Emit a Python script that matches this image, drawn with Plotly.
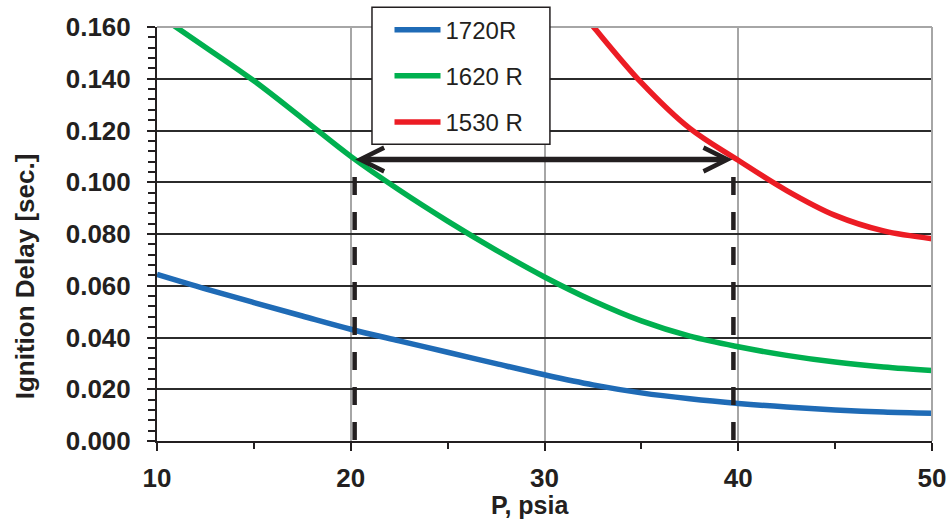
import plotly.graph_objects as go

# ---- data ----
pressure = [10, 12.5, 15, 17.5, 20, 22.5, 25, 27.5, 30, 32.5, 35, 37.5, 40, 42.5, 45, 47.5, 50]
delay_1720 = [0.0644, 0.0588, 0.0535, 0.0483, 0.0432, 0.0387, 0.0343, 0.0299, 0.0256, 0.0217,
              0.0186, 0.0163, 0.0145, 0.0131, 0.0120, 0.0112, 0.0107]
delay_1620 = [0.1650, 0.1522, 0.1392, 0.1247, 0.1100, 0.0970, 0.0850, 0.0738, 0.0634, 0.0542,
              0.0464, 0.0405, 0.0364, 0.0331, 0.0305, 0.0286, 0.0272]
pressure_1530 = [32, 32.5, 35, 37.5, 40, 42.5, 45, 47.5, 50]
delay_1530 = [0.1648, 0.1603, 0.1385, 0.1208, 0.1085, 0.0968, 0.0872, 0.0812, 0.0782]

series_names = ["1720R", "1620 R", "1530 R"]
series_colors = ["#1f6bb6", "#00b04f", "#ec1c24"]

# annotation values: equal ignition delay reached at two pressures
equal_delay = 0.1088
pressure_marks = [20.2, 39.75]
dash_top = 0.102

x_ticks = [10, 20, 30, 40, 50]
y_ticks = [0.0, 0.02, 0.04, 0.06, 0.08, 0.10, 0.12, 0.14, 0.16]

INK = "#231f20"
FONT = "Liberation Sans, Arial, sans-serif"

fig = go.Figure()
curves = [(pressure, delay_1720), (pressure, delay_1620), (pressure_1530, delay_1530)]
for i, ((xs, ys), name, col) in enumerate(zip(curves, series_names, series_colors)):
    fig.add_trace(go.Scatter(x=xs, y=ys, mode="lines", name=name,
                             line=dict(color=col, width=5.5, shape="spline", smoothing=1.0),
                             legendgroup=f"g{i}"))

for p in pressure_marks:
    fig.add_trace(go.Scatter(x=[p, p], y=[dash_top, 0], mode="lines", showlegend=False,
                             line=dict(color=INK, width=4.5, dash="18px,17px"),
                             hoverinfo="skip"))

fig.add_annotation(x=pressure_marks[1] - 0.05, y=equal_delay, ax=pressure_marks[0] - 0.05, ay=equal_delay,
                   xref="x", yref="y", axref="x", ayref="y", text="", showarrow=True,
                   arrowhead=5, startarrowhead=5, arrowside="end+start",
                   arrowsize=0.85, startarrowsize=0.85, arrowwidth=5.5, arrowcolor=INK)

# axis titles
fig.add_annotation(text="<b>Ignition Delay [sec.]</b>", xref="paper", yref="paper",
                   x=-0.1703, y=0.398, textangle=-90, showarrow=False,
                   xanchor="center", yanchor="middle", font=dict(size=26, color=INK, family=FONT))
fig.add_annotation(text="<b>P, psia</b>", xref="paper", yref="paper",
                   x=0.4813, y=-0.155, showarrow=False,
                   xanchor="center", yanchor="middle", font=dict(size=25, color=INK, family=FONT))

# frame lines (top / right) in gray, legend box
fig.add_shape(type="line", xref="paper", yref="paper", x0=0, x1=1, y0=1, y1=1,
              line=dict(color="#a6a6a6", width=2), layer="above")
fig.add_shape(type="line", xref="paper", yref="paper", x0=1, x1=1, y0=0, y1=1,
              line=dict(color="#a6a6a6", width=2), layer="above")
fig.add_shape(type="rect", xref="paper", yref="paper", x0=0.2774, x1=0.507, y0=0.7167, y1=1.0476,
              line=dict(color=INK, width=1.5), fillcolor="white", layer="above")

fig.update_layout(
    width=948, height=525,
    margin=dict(l=157, r=16, t=27, b=84, autoexpand=False),
    paper_bgcolor="white", plot_bgcolor="white",
    font=dict(family=FONT, color=INK),
    showlegend=True,
    legend=dict(x=0.300, y=1.047, xanchor="left", yanchor="top",
                bgcolor="rgba(0,0,0,0)", borderwidth=0,
                font=dict(size=24, color=INK, family=FONT),
                itemwidth=46, tracegroupgap=12, traceorder="grouped"),
    xaxis=dict(range=[10, 50], tickvals=x_ticks, ticktext=[f"<b>{v}</b>" for v in x_ticks],
               automargin=False,
               showgrid=True, gridcolor="#a6a6a6", gridwidth=1.5, zeroline=False,
               showline=True, linecolor=INK, linewidth=2,
               ticks="outside", ticklen=8, tickwidth=2, tickcolor=INK,
               tickfont=dict(size=26, color=INK, family=FONT), ticklabelstandoff=5,
               minor=dict(dtick=5, tick0=10, ticks="outside", ticklen=6, tickwidth=1.5,
                          tickcolor=INK, showgrid=False)),
    yaxis=dict(range=[0, 0.16], tickvals=y_ticks, ticktext=[f"<b>{v:.3f}</b>" for v in y_ticks],
               automargin=False,
               showgrid=True, gridcolor="#2b2b2b", gridwidth=1.5, zeroline=False,
               showline=True, linecolor=INK, linewidth=2,
               ticks="outside", ticklen=8, tickwidth=2, tickcolor=INK,
               tickfont=dict(size=26, color=INK, family=FONT), ticklabelstandoff=11,
               minor=dict(dtick=0.004, tick0=0, ticks="outside", ticklen=7, tickwidth=1.5,
                          tickcolor=INK, showgrid=False)),
)

# remove the page's default 8px body margin so the figure fills the window exactly
fig.write_html("out.html", config={"displayModeBar": False},
               post_script="document.body.style.margin='0';document.body.style.overflow='hidden';")
